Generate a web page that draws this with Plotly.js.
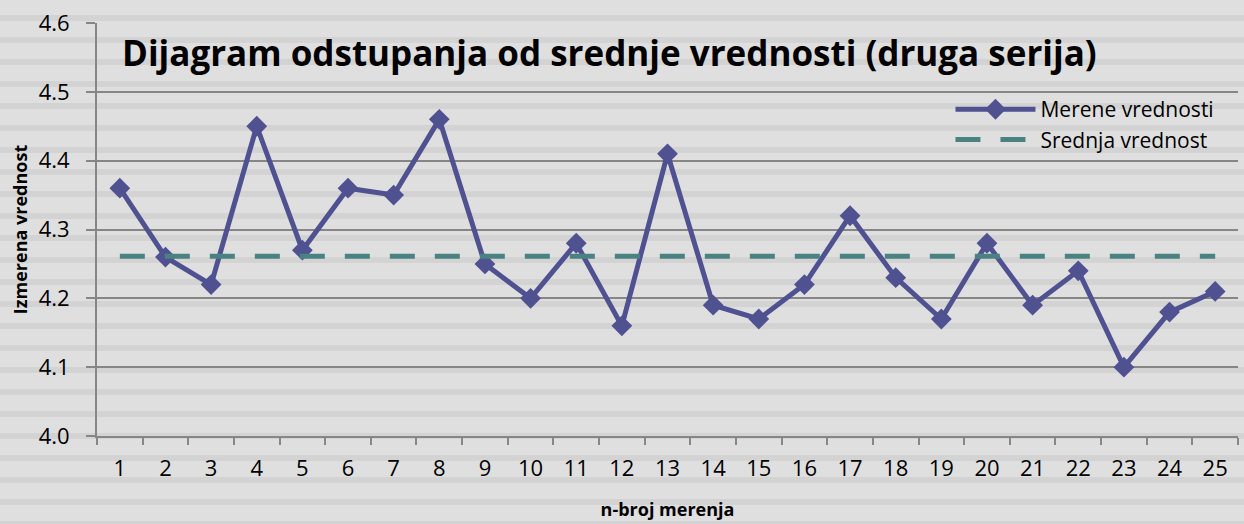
<!DOCTYPE html>
<html>
<head>
<meta charset="utf-8">
<script src="https://cdn.plot.ly/plotly-3.0.1.min.js"></script>
<style>
  html, body { margin: 0; padding: 0; }
  body {
    width: 1244px; height: 524px; overflow: hidden;
    background: repeating-linear-gradient(to bottom,
      #dfdfdf 0px, #dfdfdf 15px, #d3d3d3 15px, #d3d3d3 21px, #dfdfdf 21px, #dfdfdf 22px);
  }
  #chart { width: 1244px; height: 524px; }
</style>
</head>
<body>
<div id="chart"></div>
<script>
// ---- data ----
const measurementNo = ["1","2","3","4","5","6","7","8","9","10","11","12","13","14","15","16","17","18","19","20","21","22","23","24","25"];
const measuredValues = [4.36, 4.26, 4.22, 4.45, 4.27, 4.36, 4.35, 4.46, 4.25, 4.20, 4.28, 4.16, 4.41, 4.19, 4.17, 4.22, 4.32, 4.23, 4.17, 4.28, 4.19, 4.24, 4.10, 4.18, 4.21];
const meanValues = [4.2612, 4.2612, 4.2612, 4.2612, 4.2612, 4.2612, 4.2612, 4.2612, 4.2612, 4.2612, 4.2612, 4.2612, 4.2612, 4.2612, 4.2612, 4.2612, 4.2612, 4.2612, 4.2612, 4.2612, 4.2612, 4.2612, 4.2612, 4.2612, 4.2612];
const seriesNames = ["Merene vrednosti", "Srednja vrednost"];
const yTickVals = [4.0, 4.1, 4.2, 4.3, 4.4, 4.5, 4.6];

const FONT = "'Open Sans', sans-serif";
const GRID = "#868686";

const traces = [
  {
    type: "scatter", mode: "lines+markers",
    x: measurementNo, y: measuredValues, name: seriesNames[0],
    legendgroup: "a",
    line: { color: "#4f5190", width: 5 },
    marker: { symbol: "diamond", size: 16, color: "#4f5190" }
  },
  {
    type: "scatter", mode: "lines",
    x: measurementNo, y: meanValues, name: seriesNames[1],
    legendgroup: "b",
    line: { color: "#4a8282", width: 5, dash: "25px,20px" }
  }
];

const layout = {
  width: 1244, height: 524,
  margin: { l: 97, r: 6, t: 23, b: 87.5 },
  paper_bgcolor: "rgba(0,0,0,0)",
  plot_bgcolor: "rgba(0,0,0,0)",
  font: { family: FONT, color: "#000" },
  title: {
    text: "<b>Dijagram odstupanja od srednje vrednosti (druga serija)</b>",
    font: { family: FONT, size: 35, color: "#000" },
    xref: "paper", x: 0.0219, xanchor: "left",
    yref: "container", y: 1 - 54/524, yanchor: "middle"
  },
  xaxis: {
    type: "category",
    range: [-0.5, 24.5],
    showline: true, linecolor: GRID, linewidth: 2,
    ticks: "outside", tickson: "boundaries", ticklen: 7, tickwidth: 2, tickcolor: GRID,
    showgrid: false, zeroline: false,
    tickfont: { family: FONT, size: 22, color: "#000" },
    ticklabelstandoff: 12,
    title: { text: "<b>n-broj merenja</b>", font: { family: FONT, size: 18, color: "#000" }, standoff: 22 }
  },
  yaxis: {
    range: [4.0, 4.6],
    tickvals: yTickVals, tickformat: ".1f",
    showline: true, linecolor: GRID, linewidth: 2,
    ticks: "outside", ticklen: 9, tickwidth: 2, tickcolor: GRID,
    showgrid: true, gridcolor: GRID, gridwidth: 2,
    zeroline: false,
    tickfont: { family: FONT, size: 22, color: "#000" },
    ticklabelstandoff: 12,
    title: { text: "<b>Izmerena vrednost</b>", font: { family: FONT, size: 18, color: "#000" }, standoff: 6 }
  },
  showlegend: true,
  legend: {
    xref: "paper", x: 0.748, xanchor: "left",
    yref: "paper", y: 0.84, yanchor: "top",
    bgcolor: "rgba(0,0,0,0)", borderwidth: 0,
    font: { family: FONT, size: 21, color: "#000" },
    itemwidth: 80, tracegroupgap: 0
  }
};

Plotly.newPlot("chart", traces, layout, { displayModeBar: false, staticPlot: true });
</script>
</body>
</html>
